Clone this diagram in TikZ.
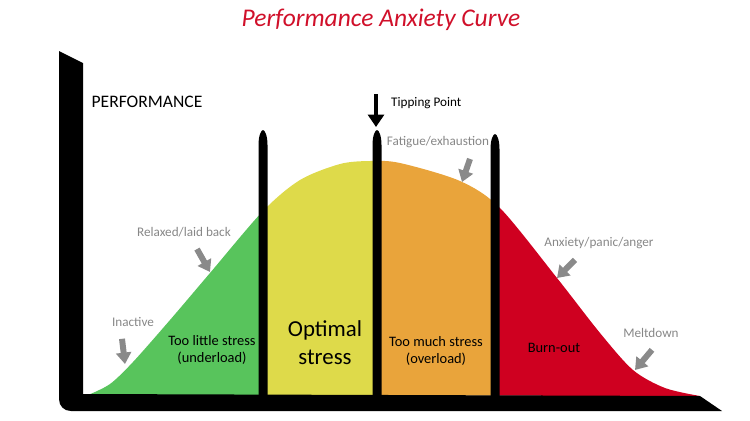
\documentclass[tikz,border=0pt]{standalone}
\usepackage{fontspec}
\setmainfont{Carlito}
\usepackage{xcolor}
\usepackage{tikz}
\usetikzlibrary{arrows.meta,calc}

\definecolor{zonegreen}{RGB}{88,196,92}
\definecolor{zoneyellow}{RGB}{222,218,74}
\definecolor{zoneorange}{RGB}{233,164,59}
\definecolor{zonered}{RGB}{207,0,32}
\definecolor{titlered}{RGB}{208,16,42}
\definecolor{labelgray}{RGB}{135,135,135}
\definecolor{arrowgray}{RGB}{138,138,138}

\begin{document}
\begin{tikzpicture}[x=0.02cm, y=-0.02cm,
    ptr/.style={draw=arrowgray, line width=3.4pt, -{Triangle[width=8.5pt,length=6.5pt]}},
    graylabel/.style={text=labelgray, font=\fontsize{7.5}{9}\selectfont},
    zonelabel/.style={align=center, font=\fontsize{8.2}{9.5}\selectfont}]
    \useasboundingbox (0,0) rectangle (750,420);

    % Zones under the curve
    \foreach \xa/\xb/\col in {80/263/zonegreen, 263/377/zoneyellow, 377/495/zoneorange, 495/710/zonered} {
        \begin{scope}
            \clip (\xa,100) rectangle (\xb,400);
            \fill[\col] plot[smooth] coordinates {(88,395) (110,384) (133,362) (170,320) (210,273) (263,211) (300,180) (340,164) (370,161) (400,163) (460,181) (500,208) (557,278) (600,333) (633,370) (665,388) (700,396)} -- cycle;
        \end{scope}
    }

    % Axes
    \fill[black] (59,51) -- (83,63) -- (83,394) -- (700,396) -- (722,411) -- (71,411) .. controls (64,411) and (59,406) .. (59,399) -- cycle;

    % Dividers
    \foreach \x/\t in {263/130, 377/130, 495/134} {
        \fill[black] (\x-4.5,396) -- (\x-4.5,\t+15) .. controls (\x-4.5,\t+6) and (\x-2,\t) .. (\x,\t) .. controls (\x+2,\t) and (\x+4.5,\t+6) .. (\x+4.5,\t+15) -- (\x+4.5,396) -- cycle;
    }

    % Texts
    \node[text=titlered, font=\fontsize{14.5}{17}\selectfont\itshape] (title) at (381,20) {Performance Anxiety Curve};
    \node[font=\fontsize{10}{12}\selectfont] (perf) at (147,102) {PERFORMANCE};
    \node[anchor=west, font=\fontsize{7.5}{9}\selectfont] (tipping) at (385,103) {Tipping Point};
    \node[graylabel] (fatigue) at (438,142) {Fatigue/exhaustion};
    \node[graylabel] (relaxed) at (184,232) {Relaxed/laid back};
    \node[graylabel] (inactive) at (133,322) {Inactive};
    \node[graylabel] (anxiety) at (599,243) {Anxiety/panic/anger};
    \node[graylabel] (melt) at (651,333) {Meltdown};
    \node[zonelabel] (little) at (212,350) {Too little stress\\(underload)};
    \node[align=center, font=\fontsize{13}{16}\selectfont] (optimal) at (325,343) {Optimal\\stress};
    \node[zonelabel] (much) at (436,351) {Too much stress\\(overload)};
    \node[zonelabel] (burn) at (554,348) {Burn-out};

    % Pointers
    \coordinate (tippoint) at (376,127);
    \draw[line width=2.8pt, -{Triangle[width=9pt,length=7pt]}] ($(tippoint)+(0,-33)$) -- (tippoint);
    \coordinate (fatiguetip) at (462,182);
    \coordinate (relaxedtip) at (210,272);
    \coordinate (inactivetip) at (125,364);
    \coordinate (anxietytip) at (557,278);
    \coordinate (melttip) at (635,370);
    \draw[ptr] ($(fatigue.south)+(32,5)$) -- (fatiguetip);
    \draw[ptr] ($(relaxed.south)+(13,6)$) -- (relaxedtip);
    \draw[ptr] ($(inactive.south)+(-11,6)$) -- (inactivetip);
    \draw[ptr] ($(anxiety.south)+(-24,5)$) -- (anxietytip);
    \draw[ptr] ($(melt.south)+(1,6)$) -- (melttip);
\end{tikzpicture}
\end{document}
